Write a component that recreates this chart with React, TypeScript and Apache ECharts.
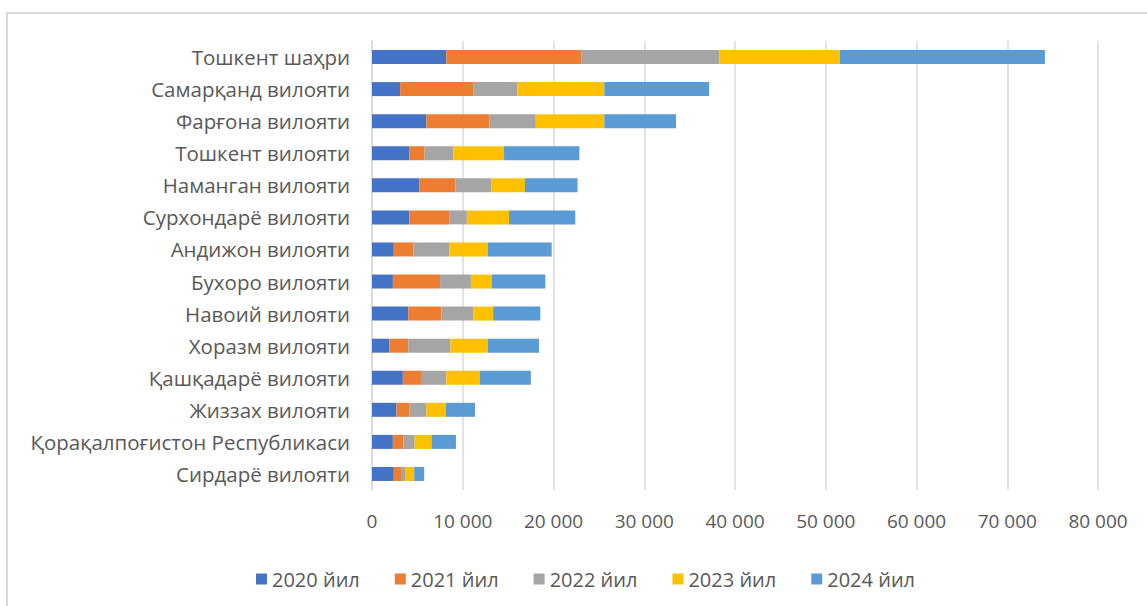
import React, { useEffect, useRef } from "react";
import * as echarts from "echarts";

const categories = [
  "Тошкент шаҳри",
  "Самарқанд вилояти",
  "Фарғона вилояти",
  "Тошкент вилояти",
  "Наманган вилояти",
  "Сурхондарё вилояти",
  "Андижон вилояти",
  "Бухоро вилояти",
  "Навоий вилояти",
  "Хоразм вилояти",
  "Қашқадарё вилояти",
  "Жиззах вилояти",
  "Қорақалпоғистон Республикаси",
  "Сирдарё вилояти",
];

const seriesNames = ["2020 йил", "2021 йил", "2022 йил", "2023 йил", "2024 йил"];

const v2020 = [8200, 3100, 6000, 4100, 5200, 4100, 2400, 2300, 4000, 1900, 3400, 2700, 2300, 2400];
const v2021 = [14850, 8050, 6950, 1700, 4000, 4400, 2150, 5200, 3650, 2100, 2000, 1450, 1150, 800];
const v2022 = [15250, 4850, 5100, 3150, 3950, 1950, 3950, 3400, 3550, 4650, 2800, 1850, 1250, 450];
const v2023 = [13250, 9600, 7550, 5600, 3700, 4650, 4250, 2300, 2150, 4100, 3700, 2150, 1850, 1000];
const v2024 = [22600, 11550, 7900, 8300, 5800, 7300, 7050, 5900, 5200, 5650, 5600, 3200, 2700, 1100];

const seriesValues = [v2020, v2021, v2022, v2023, v2024];
const colors = ["#4472C4", "#ED7D31", "#A5A5A5", "#FFC000", "#5B9BD5"];

const xMin = 0;
const xMax = 80000;
const xInterval = 10000;

const font = "'Open Sans', 'Noto Sans', sans-serif";

export default function App() {
  const ref = useRef<HTMLDivElement>(null);
  useEffect(() => {
    if (!ref.current) return;
    const chart = echarts.init(ref.current, null, { renderer: "svg" });
    chart.setOption({
      animation: false,
      backgroundColor: "#ffffff",
      textStyle: { fontFamily: font },
      graphic: [
        {
          type: "rect",
          shape: { x: 7, y: 13, width: 1200, height: 700 },
          style: { fill: "none", stroke: "#d9d9d9", lineWidth: 2 },
          silent: true,
          z: -1,
        },
      ],
      grid: { left: 372, right: 49, top: 41, bottom: 116, containLabel: false },
      legend: {
        data: seriesNames,
        top: 564,
        left: 251,
        itemWidth: 11,
        itemHeight: 11,
        itemGap: 35,
        icon: "rect",
        textStyle: { color: "#595959", fontSize: 20, fontFamily: font },
      },
      xAxis: {
        type: "value",
        min: xMin,
        max: xMax,
        interval: xInterval,
        axisLine: { show: false },
        axisTick: { show: false },
        splitLine: { lineStyle: { color: "#d9d9d9", width: 1.5 } },
        axisLabel: {
          color: "#595959",
          fontSize: 19,
          margin: 21,
          fontFamily: font,
          formatter: (v: number) => String(v).replace(/\B(?=(\d{3})+(?!\d))/g, " "),
        },
      },
      yAxis: {
        type: "category",
        data: categories,
        inverse: true,
        axisLine: { show: true, lineStyle: { color: "#d9d9d9", width: 1.5 } },
        axisTick: { show: false },
        axisLabel: { color: "#595959", fontSize: 20.5, margin: 22, fontFamily: font },
      },
      series: seriesNames.map((name, i) => ({
        name,
        type: "bar",
        stack: "total",
        data: seriesValues[i],
        barWidth: 14,
        itemStyle: { color: colors[i] },
      })),
    });
    return () => chart.dispose();
  }, []);
  return (
    <div
      ref={ref}
      style={{ position: "fixed", left: 0, top: 0, width: 1147, height: 606 }}
    />
  );
}
